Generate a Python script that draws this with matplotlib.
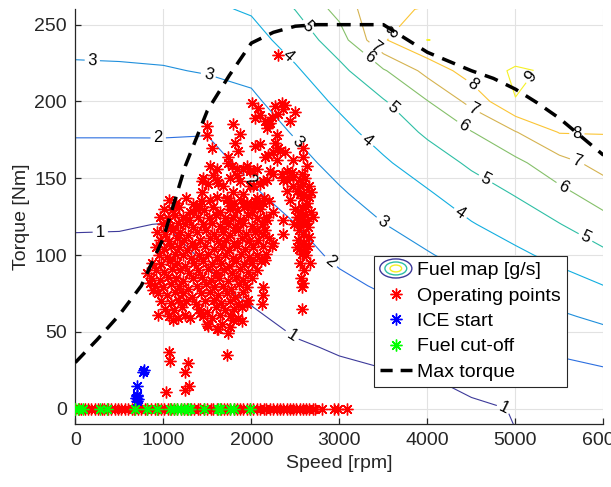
import numpy as np
import matplotlib
matplotlib.use("Agg")
import matplotlib.pyplot as plt
from matplotlib.legend_handler import HandlerBase
from matplotlib.patches import Ellipse
from matplotlib.lines import Line2D

plt.rcParams['font.family'] = ['Liberation Sans', 'DejaVu Sans']

# fuel map table: one row per speed breakpoint, columns follow torque_grid
speed_grid = [0, 500, 1000, 1500, 2000, 2500, 3000, 3500, 4000, 4500, 5000, 5500, 6000]
torque_grid = [-20, 0, 20, 40, 60, 80, 100, 120, 140, 160, 180, 200, 220, 240, 260, 280]
fuel_map = [
    [0.20, 0.32, 0.44, 0.55, 0.67, 0.79, 0.92, 1.03, 1.36, 1.69, 2.07, 2.47, 2.86, 3.25, 3.65, 4.03],
    [0.20, 0.32, 0.44, 0.55, 0.67, 0.79, 0.90, 1.03, 1.36, 1.69, 2.07, 2.48, 2.88, 3.28, 3.66, 4.04],
    [0.20, 0.31, 0.43, 0.54, 0.66, 0.77, 0.89, 0.99, 1.35, 1.70, 2.07, 2.50, 2.93, 3.33, 3.71, 4.10],
    [0.25, 0.38, 0.52, 0.65, 0.79, 0.92, 1.04, 1.28, 1.52, 1.77, 2.03, 2.56, 3.06, 3.45, 3.84, 4.20],
    [0.30, 0.48, 0.65, 0.79, 0.92, 1.15, 1.40, 1.64, 1.89, 2.18, 2.51, 2.84, 3.21, 3.64, 4.10, 4.70],
    [0.40, 0.60, 0.77, 0.93, 1.16, 1.44, 1.71, 1.99, 2.35, 2.71, 3.08, 3.48, 3.88, 4.41, 5.02, 5.60],
    [0.50, 0.70, 0.85, 1.06, 1.43, 1.80, 2.16, 2.53, 2.89, 3.29, 3.71, 4.17, 4.74, 5.52, 6.33, 6.90],
    [0.60, 0.75, 0.88, 1.26, 1.68, 2.11, 2.54, 2.98, 3.42, 3.87, 4.38, 4.92, 5.89, 7.90, 7.95, 7.60],
    [0.70, 0.87, 0.98, 1.46, 1.95, 2.44, 2.93, 3.41, 3.90, 4.50, 5.16, 5.96, 7.31, 9.02, 8.02, 7.80],
    [0.75, 0.92, 1.14, 1.69, 2.24, 2.78, 3.35, 3.94, 4.53, 5.16, 5.96, 7.29, 8.50, 8.70, 8.60, 8.30],
    [0.99, 1.02, 1.50, 1.95, 2.53, 3.13, 3.80, 4.44, 5.06, 5.76, 6.95, 8.98, 9.12, 8.30, 8.30, 8.30],
    [1.05, 1.15, 1.60, 2.19, 2.87, 3.56, 4.28, 4.97, 5.73, 6.65, 8.05, 8.90, 8.85, 8.70, 8.50, 8.30],
    [1.05, 1.20, 1.75, 2.45, 3.20, 3.99, 4.80, 5.60, 6.50, 7.35, 8.05, 8.50, 8.60, 8.60, 8.50, 8.40],
]
fuel_levels = [1, 2, 3, 4, 5, 6, 7, 8, 9]
level_colors = ['#3d3a9a', '#2c6fe0', '#1f8fdc', '#12aee0', '#2ebfa5',
                '#85c06a', '#d5b350', '#fbc535', '#f5f025']

# where the level numbers sit (level, speed, torque)
label_spots = [
    (1, 284, 115), (1, 2475, 49), (1, 4883, 3),
    (2, 942, 177), (2, 1990, 148), (2, 2894, 95),
    (3, 193, 226), (3, 1510, 217), (3, 2520, 173), (3, 3501, 122),
    (4, 2420, 230), (4, 3311, 174), (4, 4371, 127),
    (5, 2646, 249), (5, 3614, 196), (5, 4656, 149), (5, 5792, 111),
    (6, 3330, 228), (6, 4410, 184), (6, 5546, 145),
    (7, 3443, 238), (7, 4523, 196), (7, 5697, 160),
    (8, 3519, 251), (8, 4485, 209), (8, 5697, 177),
    (9, 5262, 212),
]

# full load curve
max_torque_speed = [0, 250, 500, 750, 1000, 1250, 1500, 1750, 2000, 2250, 2500, 2750,
                    3000, 3250, 3500, 3750, 4000, 4250, 4500, 4750, 5000, 5250, 5500, 5750, 6000]
max_torque = [30, 45, 61, 80, 111, 158, 194, 217, 238, 245, 249, 250,
              250, 250, 250, 241, 232, 226, 220, 215, 208, 199, 189, 177, 165]

# operating points at zero torque (idle / motoring)
idle_speed = [0, 40, 70, 110, 150, 180, 220, 260, 300, 330, 370, 410, 450, 480, 520, 560,
              600, 640, 670, 710, 750, 790, 820, 860, 900, 940, 970, 1010, 1050, 1090, 1120,
              1160, 1200, 1240, 1270, 1310, 1350, 1390, 1420, 1460, 1500, 1540, 1570, 1610,
              1650, 1690, 1720, 1760, 1800, 1840, 1870, 1910, 1950, 1990, 2020, 2060, 2100,
              2140, 2170, 2210, 2250, 2290, 2320, 2360, 2400, 2440, 2470, 2510, 2550, 2590,
              2620, 2660, 2700, 2720, 2800, 2940, 2980, 3090]

op_low = [(1030, 11), (1065, 37), (1076, 31), (1246, 12), (1246, 24), (1285, 30),
          (1296, 15), (1720, 35)]

op_edge = [(811, 88), (850, 82), (886, 77), (943, 61), (1114, 58), (1303, 59), (1416, 62),
           (1493, 55), (1512, 54), (1607, 52), (1625, 52), (1663, 55), (1739, 49), (1758, 53),
           (1795, 58), (1891, 57), (1948, 68), (2118, 68), (2136, 74), (2136, 79), (2572, 65),
           (2572, 79)]

op_core = [
    (1062, 136), (1143, 134), (1258, 137), (1341, 133), (1424, 135), (1530, 136), (1718, 137),
    (1802, 134), (1884, 136), (1952, 133), (2043, 135), (2140, 137),
    (1003, 130), (1098, 129), (1182, 131), (1301, 128), (1377, 130), (1462, 129), (1561, 131),
    (1642, 128), (1762, 130), (1839, 129), (1921, 131), (2002, 128), (2101, 130),
    (962, 125), (1051, 124), (1133, 126), (1219, 125), (1292, 123), (1398, 125), (1522, 124),
    (1598, 126), (1702, 124), (1788, 125), (1871, 123), (1958, 126), (2062, 124), (2171, 125),
    (991, 120), (1079, 119), (1163, 121), (1252, 120), (1334, 118), (1452, 120), (1549, 121),
    (1641, 119), (1731, 120), (1819, 118), (1902, 121), (2003, 119), (2121, 120),
    (932, 115), (1021, 114), (1108, 116), (1192, 115), (1281, 113), (1379, 115), (1482, 116),
    (1579, 114), (1681, 115), (1762, 113), (1851, 116), (1941, 114), (2040, 115), (2151, 116),
    (968, 110), (1059, 109), (1151, 111), (1232, 110), (1322, 108), (1418, 110), (1531, 111),
    (1622, 109), (1709, 110), (1801, 108), (1889, 111), (1979, 109), (2081, 110), (2198, 111),
    (912, 105), (1003, 104), (1091, 106), (1181, 105), (1272, 103), (1361, 105), (1469, 106),
    (1571, 104), (1662, 105), (1751, 103), (1838, 106), (1931, 104), (2022, 105), (2129, 106),
    (948, 100), (1041, 99), (1128, 101), (1222, 100), (1309, 98), (1411, 100), (1508, 101),
    (1612, 99), (1698, 100), (1792, 98), (1881, 101), (1972, 99), (2069, 100), (2162, 101),
    (869, 95), (979, 94), (1072, 96), (1161, 95), (1251, 93), (1349, 95), (1452, 96),
    (1548, 94), (1651, 95), (1741, 93), (1829, 96), (1921, 94), (2011, 95), (2108, 96),
    (921, 90), (1012, 89), (1101, 91), (1189, 90), (1291, 88), (1398, 90), (1502, 91),
    (1598, 89), (1691, 90), (1779, 88), (1872, 91), (1958, 89), (2061, 90),
    (861, 85), (958, 84), (1051, 86), (1142, 85), (1229, 83), (1341, 85), (1439, 86),
    (1542, 84), (1638, 85), (1731, 83), (1822, 86), (1908, 84), (2002, 85),
    (902, 80), (998, 79), (1091, 81), (1179, 80), (1282, 78), (1379, 80), (1481, 81),
    (1578, 79), (1682, 80), (1769, 78), (1861, 81), (1952, 79),
    (941, 75), (1039, 74), (1131, 76), (1222, 75), (1328, 73), (1431, 75), (1529, 76),
    (1621, 74), (1722, 75), (1809, 73), (1902, 76),
    (978, 70), (1082, 69), (1169, 71), (1262, 70), (1371, 68), (1469, 70), (1571, 71),
    (1658, 69), (1761, 70), (1851, 68), (1962, 71),
    (1021, 65), (1118, 64), (1212, 66), (1402, 65), (1498, 63), (1601, 66), (1702, 64),
    (1801, 65), (1899, 66),
    (1062, 60), (1171, 59), (1252, 61), (1451, 60), (1552, 59), (1648, 61), (1752, 60),
    (1848, 59),
]

op_upper = [
    (1436, 148), (1436, 141), (1416, 132), (1493, 178), (1493, 184), (1550, 170), (1531, 158),
    (1607, 149), (1607, 156), (1512, 146), (1568, 152), (1455, 150), (1625, 147), (1739, 164),
    (1739, 160), (1777, 158), (1834, 156), (1910, 156), (1985, 155), (2061, 156), (1758, 150),
    (1834, 152), (1795, 185), (1872, 179), (1815, 173), (1853, 168), (1948, 158), (2023, 155),
    (2004, 199), (2080, 196), (2099, 191), (2042, 189), (2156, 187), (2193, 185), (2175, 183),
    (2269, 197), (2307, 192), (2345, 199), (2383, 198), (2232, 190), (2212, 186), (2364, 195),
    (2440, 187), (2497, 193), (2099, 172), (2042, 171), (2269, 173), (2307, 170), (2250, 167),
    (2193, 165), (2156, 164), (2288, 162), (2402, 155), (2478, 162), (2591, 164), (2630, 158),
    (2459, 154), (1985, 145), (2099, 146), (2175, 149), (2212, 155), (2364, 149), (2478, 151),
    (2554, 149), (2591, 146), (2402, 142), (2516, 142), (2023, 145), (2136, 148), (1872, 148),
    (1795, 141), (1720, 136), (1758, 132), (1948, 134), (2042, 132), (2061, 137), (2136, 134),
    (1607, 138), (2326, 168), (2383, 167), (2591, 170), (2572, 153), (2250, 153), (2345, 153),
    (2307, 230), (2288, 178), (1680, 145), (1900, 140),
]

op_right = [
    (2440, 136), (2572, 131), (2630, 134), (2610, 127), (2554, 121), (2591, 114), (2535, 110),
    (2705, 125), (2364, 123), (2364, 114), (2554, 140), (2554, 145), (2478, 145), (2402, 149),
    (2232, 106), (2572, 101), (2554, 95), (2667, 95), (2520, 105), (2600, 108), (2640, 118),
    (2520, 125), (2600, 140), (2650, 145), (2500, 130), (2580, 125), (2620, 100), (2600, 90),
    (2560, 85), (2591, 82), (2650, 112), (2620, 131), (2540, 116), (2660, 138), (2480, 120),
    (2590, 120), (2680, 128), (2610, 104), (2175, 123), (2136, 114), (2250, 108), (2061, 116),
    (2250, 128), (2200, 135), (2156, 97), (2570, 137), (2630, 122), (2560, 128), (2615, 150),
    (2680, 141), (2545, 104), (2640, 106),
]

ice_start = [(700, 5), (690, 7), (710, 6), (698, 9), (705, 8), (705, 15), (773, 24), (782, 25)]

cutoff_speed = [0, 30, 90, 280, 360, 680, 810, 930, 1080, 1120, 1160, 1200, 1240, 1280,
                1300, 1460, 1620, 1640, 1760, 1800, 1990]


class FuelMapIcon:
    pass


class HandlerFuelMap(HandlerBase):
    # nested rings, like the contour glyph in the legend
    def create_artists(self, legend, orig_handle, xdescent, ydescent, width, height,
                       fontsize, trans):
        cx = 0.5 * width - xdescent
        cy = 0.5 * height - ydescent
        rings = []
        for k, col in zip([1.0, 0.68, 0.36], [level_colors[0], level_colors[4], level_colors[8]]):
            rings.append(Ellipse((cx, cy), width * k, height * 1.4 * k, fill=False,
                                 edgecolor=col, lw=1.0, transform=trans))
        return rings


fig = plt.figure(figsize=(6.11, 4.87), dpi=100)
ax = fig.add_axes([0.1232, 0.1294, 0.8645, 0.8515])

S, T = np.meshgrid(speed_grid, torque_grid)
Z = np.array(fuel_map).T

for lev, col in zip(fuel_levels, level_colors):
    cs = ax.contour(S, T, Z, levels=[lev], colors=[col], linewidths=0.8, zorder=2)
    spots = [(s, t) for l, s, t in label_spots if l == lev]
    if spots:
        ax.clabel(cs, manual=spots, inline=True, fontsize=12, colors='k', fmt='%d',
                  inline_spacing=3)

op_all = [(s, 0) for s in idle_speed] + op_low + op_edge + op_core + op_upper + op_right
star = (8, 2, 0)
mk = dict(ls='none', marker=star, ms=8.5, mew=1.0)
ax.plot([p[0] for p in op_all], [p[1] for p in op_all], color='red', zorder=3, **mk)
ax.plot([p[0] for p in ice_start], [p[1] for p in ice_start], color='blue', zorder=3, **mk)
ax.plot(cutoff_speed, [0] * len(cutoff_speed), color='#00ff00', zorder=3, **mk)
ax.plot(max_torque_speed, max_torque, color='black', lw=2.5, ls='--', dashes=(4, 2.6), zorder=4)

ax.set_xlim(0, 6000)
ax.set_ylim(-10, 260)
ax.set_xticks(range(0, 6001, 1000))
ax.set_yticks(range(0, 251, 50))
ax.grid(True, color='#e2e2e2', lw=0.8)
ax.set_axisbelow(True)
for side in ['top', 'right']:
    ax.spines[side].set_visible(False)
for side in ['left', 'bottom']:
    ax.spines[side].set_color('#262626')
    ax.spines[side].set_linewidth(0.9)
ax.tick_params(direction='in', length=4, width=0.9, color='#262626', labelcolor='#262626',
               labelsize=14, pad=6)
ax.set_xlabel('Speed [rpm]', fontsize=14, color='#262626', labelpad=4)
ax.set_ylabel('Torque [Nm]', fontsize=14, color='#262626', labelpad=3)

handles = [
    FuelMapIcon(),
    Line2D([], [], color='red', **mk),
    Line2D([], [], color='blue', **mk),
    Line2D([], [], color='#00ff00', **mk),
    Line2D([], [], color='black', lw=2.5, ls='--', dashes=(3.5, 2.3)),
]
labels = ['Fuel map [g/s]', 'Operating points', 'ICE start', 'Fuel cut-off', 'Max torque']
leg = ax.legend(handles, labels, handler_map={FuelMapIcon: HandlerFuelMap()},
                loc='lower right', bbox_to_anchor=(0.930, 0.090), borderaxespad=0,
                fontsize=14, frameon=True, fancybox=False, framealpha=1,
                edgecolor='#262626', handlelength=1.65, handletextpad=0.26,
                labelspacing=0.4, borderpad=0.3)
leg.get_frame().set_linewidth(0.8)
for txt in leg.get_texts():
    txt.set_color('black')

fig.savefig('out.png', dpi=100)
